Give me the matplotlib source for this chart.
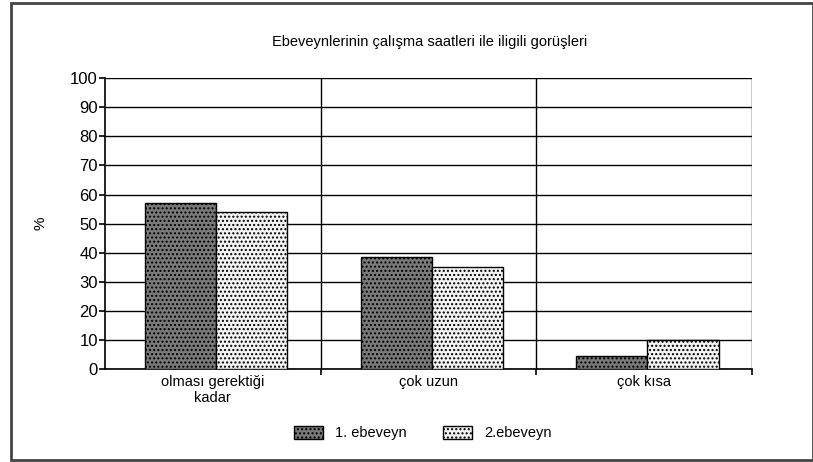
import numpy as np
import matplotlib
matplotlib.use('Agg')
from matplotlib import pyplot as plt
from matplotlib.patches import Rectangle

plt.rcParams['font.family'] = ['Liberation Sans', 'DejaVu Sans']
plt.rcParams['hatch.linewidth'] = 1.0

categories = ['olması gerektiği\nkadar', 'çok uzun', 'çok kısa']
ebeveyn1 = [57, 38.5, 4.5]
ebeveyn2 = [54, 35, 10]
series_names = ['1. ebeveyn', '2.ebeveyn']

fig = plt.figure(figsize=(8.13, 4.62), dpi=100)
ax = fig.add_axes([0.129, 0.201, 0.796, 0.630])

x = np.arange(len(categories))
w = 0.33
ax.bar(x - w / 2 + 0.015, ebeveyn1, w, facecolor='#7a7a7a', edgecolor='black',
       hatch='....', linewidth=1.0, label=series_names[0], zorder=3)
ax.bar(x + w / 2 + 0.015, ebeveyn2, w, facecolor='#f4f4f4', edgecolor='black',
       hatch='....', linewidth=1.0, label=series_names[1], zorder=3)

ax.set_xlim(-0.5, 2.5)
ax.set_ylim(0, 100)
ax.set_yticks(range(0, 101, 10))
ax.set_xticks([0.5, 1.5, 2.5], minor=False)
ax.set_xticklabels([])
ax.set_xticks(x, minor=True)
ax.set_xticklabels(categories, minor=True, fontsize=10.5)
ax.tick_params(axis='x', which='minor', length=0, pad=4)
ax.tick_params(axis='x', which='major', length=4, width=1.2, direction='out')
ax.tick_params(axis='y', length=4, width=1.2, labelsize=12, pad=1)
ax.grid(True, which='major', color='black', linewidth=1.0, zorder=0)
ax.set_axisbelow(True)
for side in ['top', 'right']:
    ax.spines[side].set_visible(False)
for side in ['left', 'bottom']:
    ax.spines[side].set_linewidth(1.2)

ax.set_ylabel('%', fontsize=11, labelpad=16)
fig.text(0.528, 0.909, 'Ebeveynlerinin çalışma saatleri ile iligili gorüşleri',
         ha='center', va='center', fontsize=10.5)

fig.legend(loc='center', bbox_to_anchor=(0.52, 0.063), ncol=2, frameon=False,
           fontsize=10.5, handlelength=2.0, handleheight=1.0, columnspacing=2.5)

fig.patches.append(Rectangle((11 / 813, 2 / 462), 802 / 813, 457 / 462,
                             transform=fig.transFigure, fill=False,
                             edgecolor='#444444', linewidth=2))

fig.savefig('out.png', dpi=100)
